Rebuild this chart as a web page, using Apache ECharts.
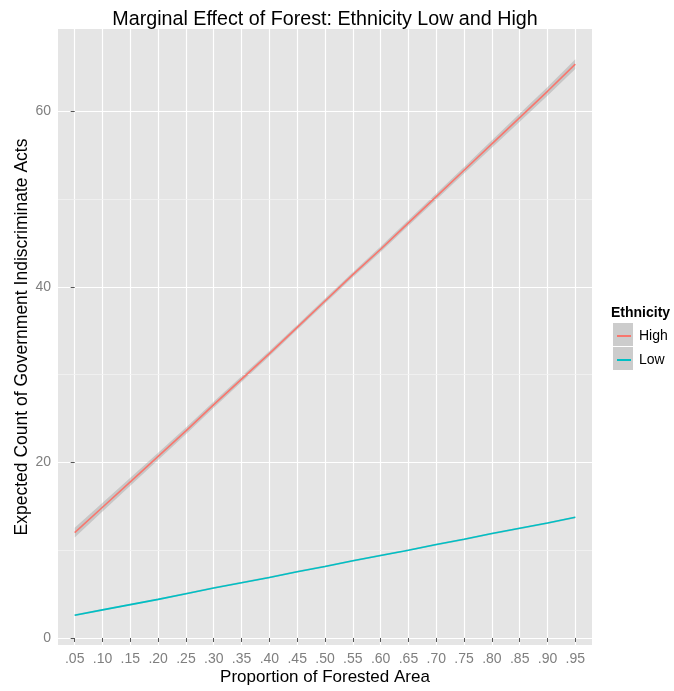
<!DOCTYPE html>
<html><head><meta charset="utf-8">
<script src="https://cdn.jsdelivr.net/npm/echarts@6/dist/echarts.min.js"></script>
<style>html,body{margin:0;padding:0;background:#fff}#c{width:674px;height:691px}</style>
</head><body><div id="c"></div>
<script>
var xLabels = ['.05','.10','.15','.20','.25','.30','.35','.40','.45','.50','.55','.60','.65','.70','.75','.80','.85','.90','.95'];
var highValues = [12.0,14.9,17.8,20.7,23.6,26.6,29.5,32.4,35.4,38.4,41.4,44.3,47.3,50.3,53.3,56.3,59.3,62.3,65.4];
var highSE = [0.55,0.5,0.46,0.42,0.38,0.35,0.32,0.3,0.28,0.28,0.28,0.3,0.32,0.35,0.38,0.42,0.46,0.5,0.55];
var lowValues = [2.6,3.2,3.8,4.4,5.05,5.7,6.3,6.9,7.55,8.15,8.8,9.4,10.0,10.65,11.25,11.9,12.5,13.1,13.75];
var lowSE = [0.1,0.1,0.1,0.1,0.1,0.1,0.1,0.1,0.1,0.1,0.1,0.1,0.1,0.1,0.1,0.1,0.1,0.1,0.1];
var yTicks = [0,20,40,60];
var yMinor = [10,30,50];

var idx = xLabels.map(function(_,i){return i;});
function pts(arr){return arr.map(function(v,i){return [i,v];});}
function ribbon(vals, se){
  return function(params, api){
    var upper = vals.map(function(v,i){return api.coord([i, v+se[i]]);});
    var lower = vals.map(function(v,i){return api.coord([i, v-se[i]]);}).reverse();
    return {type: 'polygon', shape: {points: upper.concat(lower)},
            style: {fill: 'rgba(153,153,153,0.4)'}};
  };
}

var font = '"Liberation Sans", Arial, Helvetica, sans-serif';
var chart = echarts.init(document.getElementById('c'));
chart.setOption({
  animation: false,
  textStyle: {fontFamily: font},
  title: {
    text: 'Marginal Effect of Forest: Ethnicity Low and High',
    left: 320, top: 5, textAlign: 'center',
    textStyle: {fontSize: 19.7, fontWeight: 'normal', color: '#000', fontFamily: font}
  },
  grid: {left: 58, right: 82, top: 29, bottom: 44, show: true, backgroundColor: '#e5e5e5', borderWidth: 0},
  xAxis: {
    type: 'value', min: -0.6, max: 18.6,
    name: 'Proportion of Forested Area', nameLocation: 'middle', nameGap: 24, nameMoveOverlap: false,
    nameTextStyle: {fontSize: 17, color: '#000', fontFamily: font},
    axisLine: {show: false},
    axisTick: {show: true, length: 4, lineStyle: {color: '#555', width: 1}, customValues: idx},
    axisLabel: {customValues: idx, margin: 7, fontSize: 14, color: '#7f7f7f', fontFamily: font,
      formatter: function(v){return xLabels[Math.round(v)];}},
    splitLine: {show: true, lineStyle: {color: '#ffffff', width: 1.2}}
  },
  yAxis: {
    type: 'value', min: -0.8, max: 69.4,
    name: 'Expected Count of Government Indiscriminate Acts', nameLocation: 'middle', nameGap: 27, nameMoveOverlap: false,
    nameTextStyle: {fontSize: 17.5, color: '#000', fontFamily: font},
    axisLine: {show: false},
    axisTick: {show: true, length: 4, lineStyle: {color: '#555', width: 1}, customValues: yTicks},
    axisLabel: {customValues: yTicks, margin: 7, fontSize: 14, color: '#7f7f7f', fontFamily: font},
    splitLine: {show: true, lineStyle: {color: '#ffffff', width: 1.2}}
  },
  legend: {
    data: ['High','Low'], orient: 'vertical', left: 617, top: 329, padding: 0,
    icon: 'rect', itemWidth: 14, itemHeight: 2, itemGap: 10,
    textStyle: {fontSize: 14, color: '#000', fontFamily: font, padding: [0,0,0,3]}
  },
  graphic: [
    {type: 'text', left: 611, top: 306, style: {text: 'Ethnicity', font: 'bold 14px ' + font, fill: '#000'}},
    {type: 'rect', shape: {x: 613, y: 323, width: 20, height: 23}, style: {fill: '#cccccc'}, z: -1},
    {type: 'rect', shape: {x: 613, y: 347, width: 20, height: 23}, style: {fill: '#cccccc'}, z: -1}
  ],
  series: [
    {name: 'minor', type: 'line', data: [], silent: true, z: 1,
     markLine: {silent: true, symbol: 'none', label: {show: false}, animation: false,
       lineStyle: {color: '#f2f2f2', width: 0.8, type: 'solid'},
       data: yMinor.map(function(v){return {yAxis: v};})}},
    {name: 'hiBand', type: 'custom', data: [[0,0]], renderItem: ribbon(highValues, highSE), silent: true, z: 3},
    {name: 'loBand', type: 'custom', data: [[0,0]], renderItem: ribbon(lowValues, lowSE), silent: true, z: 3},
    {name: 'High', type: 'line', data: pts(highValues), symbol: 'none', color: '#F8766D',
     lineStyle: {color: '#F8766D', width: 1.6}, z: 5},
    {name: 'Low', type: 'line', data: pts(lowValues), symbol: 'none', color: '#00BFC4',
     lineStyle: {color: '#00BFC4', width: 1.6}, z: 5}
  ]
});
</script></body></html>
